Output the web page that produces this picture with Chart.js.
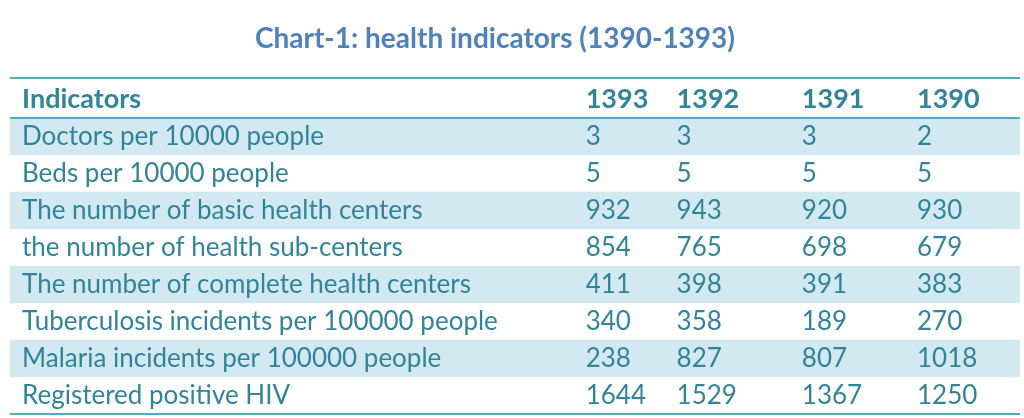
<!DOCTYPE html>
<html>
<head>
<meta charset="utf-8">
<script src="https://cdn.jsdelivr.net/npm/chart.js@4.4.1/dist/chart.umd.min.js"></script>
<style>
  html, body { margin: 0; padding: 0; background: #fff; }
  #wrap { width: 1024px; height: 418px; }
</style>
</head>
<body>
<div id="wrap"><canvas id="healthChart"></canvas></div>
<script>
const chartTitle = 'Chart-1: health indicators (1390-1393)';
const headerLabels = ['Indicators', '1393', '1392', '1391', '1390'];
const indicators = [
  'Doctors per 10000 people',
  'Beds per 10000 people',
  'The number of basic health centers',
  'the number of health sub-centers',
  'The number of complete health centers',
  'Tuberculosis incidents per 100000 people',
  'Malaria incidents per 100000 people',
  'Registered positive HIV'
];
const values1393 = [3, 5, 932, 854, 411, 340, 238, 1644];
const values1392 = [3, 5, 943, 765, 398, 358, 827, 1529];
const values1391 = [3, 5, 920, 698, 391, 189, 807, 1367];
const values1390 = [2, 5, 930, 679, 383, 270, 1018, 1250];
const yearColumns = [values1393, values1392, values1391, values1390];

// left edge of each column, in x-scale units (0-100 across the table)
const columnStart = [1.2, 57.0, 66.0, 78.4, 89.8];

const TEXT = '#31849b';
const RULE = '#4bacc6';
const STRIPE = '#d3e9f1';
const FONT = 'Lato';
const SIZE = 26;

// every other row gets the light blue band
const stripes = indicators.map((_, i) => (i % 2 === 0 ? [0, 100] : null));

const tablePlugin = {
  id: 'tableText',
  afterDraw(chart) {
    const { ctx, chartArea } = chart;
    const x = chart.scales.x;
    const y = chart.scales.y;
    ctx.save();

    // title
    ctx.fillStyle = '#4f81bd';
    ctx.font = `bold 28px ${FONT}`;
    ctx.textAlign = 'center';
    ctx.textBaseline = 'middle';
    ctx.fillText(chartTitle, 495, 39);

    // rules
    ctx.strokeStyle = RULE;
    ctx.lineWidth = 2;
    const headTop = chartArea.top - 40;
    [headTop, chartArea.top, chartArea.bottom].forEach(py => {
      ctx.beginPath();
      ctx.moveTo(chartArea.left, py);
      ctx.lineTo(chartArea.right, py);
      ctx.stroke();
    });

    // header row
    ctx.fillStyle = TEXT;
    ctx.textAlign = 'left';
    ctx.font = `bold 27px ${FONT}`;
    headerLabels.forEach((label, j) => {
      ctx.fillText(label, x.getPixelForValue(columnStart[j]), chartArea.top - 19);
    });

    // values
    ctx.font = `${SIZE}px ${FONT}`;
    yearColumns.forEach((col, j) => {
      col.forEach((v, i) => {
        ctx.fillText(String(v), x.getPixelForValue(columnStart[j + 1]), y.getPixelForValue(i));
      });
    });
    ctx.restore();
  }
};

new Chart(document.getElementById('healthChart'), {
  type: 'bar',
  data: {
    labels: indicators,
    datasets: [{
      data: stripes,
      backgroundColor: STRIPE,
      borderWidth: 0,
      barPercentage: 1,
      categoryPercentage: 1
    }]
  },
  options: {
    indexAxis: 'y',
    responsive: true,
    maintainAspectRatio: false,
    animation: false,
    layout: { padding: { top: 118, bottom: 4, left: 10, right: 4 } },
    plugins: {
      legend: { display: false },
      tooltip: { enabled: false },
      title: { display: false }
    },
    scales: {
      x: { type: 'linear', min: 0, max: 100, display: false },
      y: {
        grid: { display: false },
        border: { display: false },
        afterFit: scale => {
          scale.width = 0;
          scale.paddingTop = 0;
          scale.paddingBottom = 0;
        },
        ticks: {
          z: 1,
          mirror: true,
          autoSkip: false,
          padding: 12,
          color: TEXT,
          font: { family: FONT, size: SIZE }
        }
      }
    }
  },
  plugins: [tablePlugin]
});
</script>
</body>
</html>
